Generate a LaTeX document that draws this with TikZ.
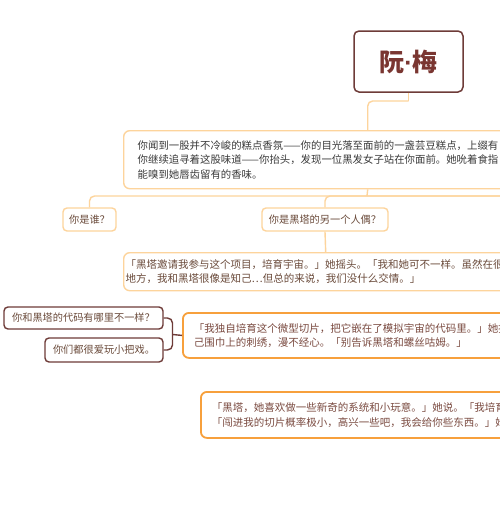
\documentclass[tikz,border=0pt]{standalone}
\usepackage{fontspec}
\setmainfont{Noto Sans CJK SC}
\newfontfamily\dotfont{Liberation Sans}
\definecolor{lorange}{HTML}{FDD49C}
\definecolor{dorange}{HTML}{F7A03C}
\definecolor{brownline}{HTML}{6E3B38}
\definecolor{titlecol}{HTML}{7A3631}
\definecolor{txtgray}{HTML}{3A3A3A}
\definecolor{txtbrown}{HTML}{6A4A3A}
\definecolor{txtred}{HTML}{7A4A40}
\begin{document}
\begin{tikzpicture}[x=1pt,y=-1pt,
  titlebox/.style={draw=brownline, line width=1.5pt, rounded corners=5pt, minimum width=109pt, minimum height=61pt, inner sep=0pt, text=titlecol, font=\fontsize{25}{30}\selectfont\bfseries},
  lbox/.style={draw=lorange, line width=1.4pt, rounded corners=6pt, anchor=north west, align=left, inner ysep=0pt, font=\fontsize{10.4}{14.5}\selectfont},
  obox/.style={draw=dorange, line width=1.8pt, rounded corners=6pt, anchor=north west, align=left, inner ysep=0pt, text=txtred, font=\fontsize{10.5}{14.5}\selectfont},
  subnode/.style={draw=lorange, line width=1.4pt, rounded corners=4pt, inner sep=0pt, minimum height=23pt, text=txtbrown, font=\fontsize{10.2}{12}\selectfont},
  bnode/.style={draw=brownline, line width=1.4pt, rounded corners=4pt, inner sep=0pt, text=txtbrown, font=\fontsize{10.2}{12}\selectfont},
  lline/.style={draw=lorange, line width=1.4pt},
  bline/.style={draw=brownline, line width=1.4pt}]
\useasboundingbox (0,0) rectangle (500,528);
\fill[white] (0,0) rectangle (500,528);
\begin{scope}
\clip (0,0) rectangle (500,528);
% nodes
\node[titlebox] (t) at (408.5,61.5) {阮{\dotfont\bfseries ·}梅};
\node[lbox, text=txtgray, inner xsep=14pt, text width=460pt, minimum height=58pt] (b1) at (123,130)
  {你闻到一股并不冷峻的糕点香氛——你的目光落至面前的一盏芸豆糕点，上缀有\\
   你继续追寻着这股味道——你抬头，发现一位黑发女子站在你面前。她吮着食指\\
   能嗅到她唇齿留有的香味。};
\node[subnode, minimum width=53pt] (n1) at (89.5,219.5) {你是谁？};
\node[subnode, minimum width=126pt] (n2) at (325,219.5) {你是黑塔的另一个人偶？};
\node[lbox, text=txtbrown, inner xsep=2pt, text width=400pt, minimum height=38pt, font=\fontsize{10.5}{14.8}\selectfont] (b3) at (123,252)
  {「黑塔邀请我参与这个项目，培育宇宙。」她摇头。「我和她可不一样。虽然在很\\
   地方，我和黑塔很像是知己…但总的来说，我们没什么交情。」};
\node[obox, inner xsep=11pt, text width=378pt, minimum height=45pt] (b4) at (182,312)
  {「我独自培育这个微型切片，把它嵌在了模拟宇宙的代码里。」她抚\\
   己围巾上的刺绣，漫不经心。「别告诉黑塔和螺丝咕姆。」};
\node[bnode, minimum width=159pt, minimum height=22pt] (n3) at (83.5,318) {你和黑塔的代码有哪里不一样？};
\node[bnode, minimum width=118pt, minimum height=24pt] (n4) at (104,350) {你们都很爱玩小把戏。};
\node[obox, inner xsep=11pt, text width=378pt, minimum height=46pt] (b5) at (200,391)
  {「黑塔，她喜欢做一些新奇的系统和小玩意。」她说。「我培育\\
   「闯进我的切片概率极小，高兴一些吧，我会给你些东西。」她};
% connectors
\coordinate (c0) at (408.5,101);
\draw[lline] (t.south) -- (c0);
\draw[lline, rounded corners=5pt] (c0) -| (b1.north);
\coordinate (c1) at (367,196);
\coordinate (c1e) at (520,196);
\draw[lline] (b1.south) -- (c1);
\draw[lline, rounded corners=5pt] (n1.north) |- (c1e);
\draw[lline, rounded corners=5pt] (n2.north) |- (c1e);
\draw[lline] (n2.south) -- (b3.north);
\coordinate (j4) at (172.5,334.5);
\draw[bline, rounded corners=5pt] (n3.east) -| (j4) |- (n4.east);
\draw[bline] (j4) -- (b4.west);
\end{scope}
\end{tikzpicture}
\end{document}
